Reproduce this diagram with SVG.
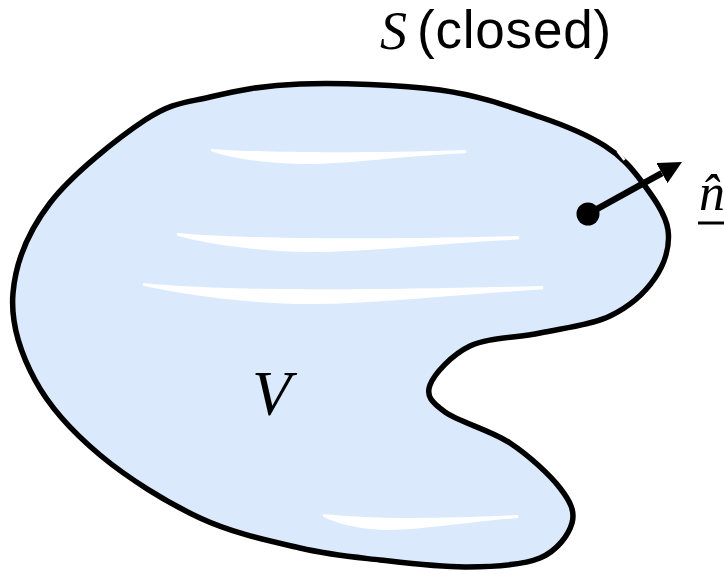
<svg xmlns="http://www.w3.org/2000/svg" width="724" height="574" viewBox="0 0 724 574">
<style>
.outline{fill:#dae9fc;stroke:#000;stroke-width:5.5;stroke-linejoin:round}
.hl{fill:#fff;stroke:none}
.math{font-family:"Liberation Serif","Times New Roman",serif;font-style:italic;fill:#000}
.sans{font-family:"Liberation Sans",Arial,sans-serif;fill:#000}
.shaft{stroke:#000;stroke-width:6.5;fill:none}
</style>
<defs>
<marker id="head" viewBox="0 0 23 23" markerWidth="23" markerHeight="23" refX="0" refY="11.5" orient="auto" markerUnits="userSpaceOnUse">
<path d="M0,0 L23,11.5 L0,23 Z" fill="#000"/>
</marker>
</defs>
<g id="volume">
<path class="outline" d="M300,84 C338.3,82.8 400,84.5 440,90 C480,95.5 512.5,107.7 540,117 C567.5,126.3 588,135.2 605,146 C622,156.8 631.5,168 642,182 C652.5,196 665.8,214 668,230 C670.2,246 664.7,263.7 655,278 C645.3,292.3 629.2,306.8 610,316 C590.8,325.2 563.3,328 540,333 C516.7,338 488.3,337.3 470,346 C451.7,354.7 434.2,374 430,385 C425.8,396 431.7,402.3 445,412 C458.3,421.7 490.8,430.3 510,443 C529.2,455.7 549.7,474.7 560,488 C570.3,501.3 575.3,511.3 572,523 C568.7,534.7 557.5,550.7 540,558 C522.5,565.3 493.7,566.7 467,567 C440.3,567.3 407.8,563.2 380,560 C352.2,556.8 330,555 300,548 C270,541 233.3,533.5 200,518 C166.7,502.5 127.5,478 100,455 C72.5,432 49.5,407 35,380 C20.5,353 10.5,322.5 13,293 C15.5,263.5 28,231.8 50,203 C72,174.2 118.3,137.7 145,120 C171.7,102.3 184.2,103 210,97 C235.8,91 261.7,85.2 300,84 Z"/>
<path d="M617.5,151 L624.5,160" stroke="#fff" stroke-width="2.5"/>
<path class="hl" d="M211,149 C250,152 350,154 465,150 A1.6,1.6 0 0 1 465,153.2 C400,156 340,165 300,164 C260,163 225,157 211,151 Z"/>
<path class="hl" d="M177,233 C220,237 320,241 518,236 A1.8,1.8 0 0 1 518,239.5 C440,243 370,252 310,252 C260,252 200,243 177,235.5 Z"/>
<path class="hl" d="M143,283 C200,289 320,292 542,286 A1.8,1.8 0 0 1 542,289.5 C460,294 380,304 310,304 C240,304 170,292 143,285.5 Z"/>
<path class="hl" d="M323,514 C360,518 420,520 517,515 A1.5,1.5 0 0 1 517,518 C470,522 420,530 390,530 C360,530 335,523 323,516.5 Z"/>
<text class="math" x="252" y="415" font-size="64">V</text>
</g>
<g id="label-S">
<text class="math" x="380" y="48.5" font-size="54">S</text>
<text class="sans" x="417" y="48" font-size="53" letter-spacing="0.8">(closed)</text>
</g>
<g id="connectors">
<line class="shaft" x1="588" y1="214" x2="661.9" y2="173.1" marker-end="url(#head)"/>
<circle cx="588" cy="214" r="11.5" fill="#000"/>
</g>
<g id="label-n">
<text class="math" x="699" y="210" font-size="52">n&#x302;</text>
<line x1="698" y1="223" x2="724" y2="223" stroke="#000" stroke-width="3"/>
</g>
</svg>
